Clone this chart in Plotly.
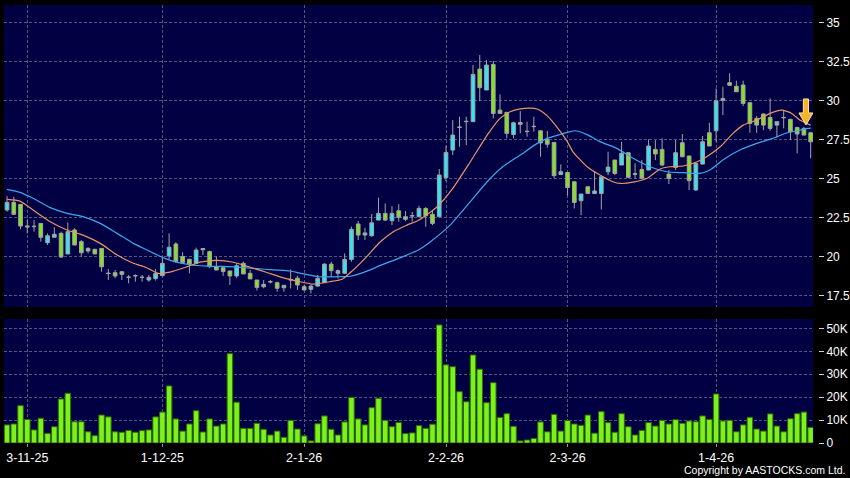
import plotly.graph_objects as go

# ---------------- data ----------------
opens = [22.97, 23.46, 23.33, 21.95, 21.90, 22.11, 20.87, 21.22, 21.47, 20.15,
         21.69, 20.94, 20.34, 20.45, 20.51, 18.92, 18.95, 19.01, 18.65, 18.74,
         18.66, 18.48, 18.57, 18.76, 20.02, 20.79, 19.98, 19.81, 19.55, 20.42,
         20.30, 19.34, 19.27, 19.06, 18.74, 19.55, 18.91, 18.48, 18.05, 18.37,
         18.31, 17.98, 18.48, 18.60, 18.05, 17.88, 18.09, 18.31, 19.50, 18.91,
         18.91, 19.80, 22.07, 21.36, 21.32, 22.32, 22.75, 22.28, 22.92, 22.54,
         22.58, 22.54, 23.07, 22.69, 22.54, 25.04, 26.81, 28.26, 28.63, 28.63,
         32.00, 30.66, 32.30, 29.37, 29.23, 27.81, 28.58, 27.99, 28.31, 28.05,
         27.47, 27.30, 25.25, 25.37, 24.78, 23.56, 24.46, 24.02, 24.03, 25.42,
         26.17, 25.85, 26.64, 25.25, 25.57, 25.53, 26.85, 26.85, 25.27, 25.70,
         27.28, 26.43, 24.25, 25.91, 27.92, 28.05, 30.00, 31.13, 30.90, 30.98,
         29.85, 28.84, 29.12, 28.90, 28.41, 28.88, 28.78, 28.26, 28.20, 27.92]
highs = [23.86, 23.82, 23.33, 22.37, 22.33, 22.11, 21.47, 21.86, 21.58, 22.18,
         21.80, 21.05, 20.57, 20.45, 20.51, 19.19, 19.12, 19.06, 18.80, 18.84,
         18.80, 18.80, 19.19, 19.98, 21.47, 20.90, 20.26, 19.81, 20.55, 20.52,
         20.36, 19.98, 19.27, 19.06, 19.55, 19.66, 19.12, 18.48, 18.48, 18.48,
         18.37, 18.15, 19.16, 18.75, 18.20, 18.20, 18.80, 19.55, 19.65, 19.16,
         20.19, 21.90, 22.26, 21.83, 22.71, 23.76, 23.39, 23.22, 23.35, 22.90,
         22.85, 23.24, 23.15, 22.95, 25.60, 27.09, 28.73, 28.95, 28.95, 32.26,
         32.90, 32.58, 32.52, 30.38, 29.23, 28.63, 29.31, 28.63, 28.95, 28.05,
         28.03, 27.30, 25.89, 25.37, 24.78, 23.99, 24.46, 25.42, 25.10, 26.70,
         26.17, 27.34, 26.64, 25.96, 26.17, 27.50, 27.45, 27.56, 25.53, 27.45,
         27.84, 26.43, 25.96, 27.71, 28.56, 30.76, 30.87, 31.73, 31.26, 31.26,
         29.85, 29.00, 29.16, 30.12, 28.63, 29.33, 28.78, 28.30, 28.30, 27.98]
lows = [22.86, 22.65, 21.73, 21.47, 21.58, 20.94, 20.72, 21.22, 19.91, 20.15,
        20.72, 19.98, 20.19, 20.15, 19.01, 18.48, 18.60, 18.48, 18.27, 18.37,
        18.37, 18.37, 18.44, 18.76, 19.81, 19.60, 19.55, 18.91, 19.55, 20.08,
        19.23, 19.12, 18.74, 18.16, 18.59, 18.87, 18.55, 17.80, 17.95, 18.27,
        17.73, 17.73, 17.94, 17.84, 17.84, 17.62, 18.05, 18.31, 18.69, 18.58,
        18.91, 19.65, 21.04, 21.04, 21.25, 22.32, 22.26, 22.00, 22.22, 22.25,
        22.22, 22.54, 21.90, 22.00, 22.54, 24.80, 26.49, 27.02, 27.13, 28.63,
        29.95, 30.66, 28.84, 29.16, 27.56, 27.56, 27.88, 27.67, 27.99, 26.38,
        26.96, 24.99, 25.20, 23.90, 23.07, 22.64, 24.00, 24.00, 23.00, 25.20,
        25.20, 25.85, 25.00, 25.00, 24.93, 25.53, 26.17, 25.78, 24.63, 25.53,
        26.38, 24.25, 24.20, 25.91, 27.07, 27.34, 29.05, 30.96, 30.55, 29.63,
        27.92, 27.92, 28.09, 28.05, 27.62, 28.20, 27.45, 26.60, 27.77, 26.28]
closes = [23.46, 22.69, 21.94, 21.88, 21.92, 21.22, 21.32, 21.41, 19.95, 21.58,
          20.72, 20.23, 20.51, 20.15, 19.33, 18.90, 18.74, 18.84, 18.66, 18.76,
          18.65, 18.65, 18.91, 19.55, 20.58, 19.66, 19.61, 19.49, 20.40, 20.50,
          19.34, 19.12, 19.02, 18.74, 19.40, 18.87, 18.55, 18.01, 18.20, 18.36,
          17.95, 18.14, 18.50, 18.16, 17.84, 18.09, 18.58, 19.50, 19.08, 19.08,
          19.80, 21.73, 21.36, 21.50, 22.15, 22.75, 22.32, 22.75, 22.50, 22.37,
          22.60, 23.07, 22.60, 22.11, 25.21, 26.66, 27.77, 28.28, 28.65, 31.66,
          30.81, 32.26, 29.16, 29.16, 27.88, 28.56, 28.46, 28.01, 28.33, 27.27,
          27.18, 25.17, 25.42, 24.41, 23.45, 23.99, 24.03, 24.19, 25.10, 25.72,
          25.31, 26.60, 25.06, 25.29, 25.00, 27.07, 26.56, 25.85, 24.99, 26.64,
          26.38, 24.85, 25.96, 27.34, 27.07, 29.97, 30.12, 30.96, 30.55, 29.80,
          28.52, 28.41, 28.41, 28.20, 28.63, 28.90, 27.99, 27.84, 27.77, 27.34]
volumes = [7900, 8300, 16300, 10300, 5700, 10800, 4200, 7100, 19200, 21700,
           9300, 9300, 4900, 3200, 12200, 11400, 4900, 4700, 5500, 4700,
           5400, 5700, 11400, 13500, 24900, 10500, 5200, 8300, 14100, 4800,
           10500, 7400, 8300, 39000, 17800, 6400, 6400, 8600, 6000, 3500,
           5200, 2500, 9900, 6100, 3100, 900, 8400, 11800, 6000, 3500,
           9200, 19900, 10500, 7900, 15400, 19500, 9900, 7100, 9000, 4100,
           4400, 7600, 6400, 8200, 51500, 34100, 33300, 22400, 18000, 38400,
           32200, 17600, 26300, 11100, 12800, 7300, 900, 1300, 2000, 9200,
           4900, 12500, 5200, 9800, 8300, 7700, 12200, 4300, 13700, 8900,
           4700, 12800, 7100, 3500, 5500, 8900, 7400, 9900, 8300, 10200,
           8600, 9600, 9300, 11800, 10300, 21400, 9600, 9900, 4900, 7900,
           11200, 6100, 5200, 12700, 7400, 4900, 10600, 12800, 13500, 6800]

# moving averages (trading-day index, value)
ma10_x = [0, 1.9, 3.85, 6.4, 8.9, 11.25, 13.8, 16.3, 18.7, 20.5, 22.4, 24.1, 26.6,
          28.6, 31.1, 33.5, 36, 38.5, 41.2, 43.4, 45.3, 47.8, 49.7, 51.2, 53.3,
          55.2, 57.2, 59.2, 61.1, 63.7, 66, 68.6, 71.1, 73, 74.5, 76, 77.5, 78.5,
          80, 81.4, 82.9, 83.8, 85.9, 87.8, 89.7, 90.8, 92.7, 94.8, 96.7, 98.2,
          100.1, 102.2, 103.6, 105.6, 107.5, 109, 111, 113, 114.7, 116.2, 117.4,
          118.4, 119]
ma10_y = [23.65, 23.54, 22.97, 22.22, 21.69, 21.36, 20.83, 20.08, 19.55, 19.3,
          18.9, 18.98, 19.32, 19.63, 19.74, 19.62, 19.3, 18.96, 18.58, 18.37,
          18.22, 18.37, 18.55, 19.1, 20.0, 20.9, 21.58, 22.0, 22.35, 23.18,
          24.35, 26.06, 27.77, 28.84, 29.27, 29.45, 29.5, 29.44, 29.0, 28.3,
          27.4, 26.7, 25.74, 25.21, 24.78, 24.67, 24.75, 25.0, 25.6, 25.74,
          25.79, 26.06, 26.38, 27.02, 27.88, 28.41, 28.73, 29.16, 29.37, 29.16,
          28.73, 28.52, 28.4]
ma20_x = [0, 1.9, 3.85, 6.4, 8.9, 11.25, 13.8, 16.3, 18.7, 20.5, 22.4, 24.6,
          27.1, 29.6, 32, 34.5, 37, 39.4, 41.9, 43.4, 46.3, 49.3, 50.8, 53.3,
          55.2, 58.2, 61.1, 62.6, 65.6, 68.6, 71.1, 73.4, 76, 78.5, 80, 81.9,
          83.4, 84.1, 85.9, 87.8, 90.3, 92.7, 95.2, 97.7, 100.1, 102.6, 104.1,
          106, 108.5, 111, 113.4, 115.5, 117.4, 118.6, 119]
ma20_y = [24.29, 24.1, 23.72, 23.12, 22.75, 22.54, 22.11, 21.47, 20.83, 20.45,
          20.05, 19.68, 19.46, 19.37, 19.35, 19.29, 19.21, 19.13, 19.06, 18.92,
          18.69, 18.69, 18.72, 19.05, 19.4, 19.9, 20.45, 20.9, 22.0, 23.5,
          24.78, 25.74, 26.49, 27.24, 27.56, 27.81, 27.99, 28.05, 27.8, 27.35,
          26.92, 26.28, 25.74, 25.42, 25.36, 25.32, 25.53, 26.17, 26.81, 27.24,
          27.56, 27.92, 28.09, 28.2, 28.22]

tick_idx = [3, 23, 44, 65, 83, 105]
tick_text = ["3-11-25", "1-12-25", "2-1-26", "2-2-26", "2-3-26", "1-4-26"]
price_ticks = [17.5, 20, 22.5, 25, 27.5, 30, 32.5, 35]
price_tick_text = ["17.5", "20", "22.5", "25", "27.5", "30", "32.5", "35"]
vol_ticks = [0, 10000, 20000, 30000, 40000, 50000]
vol_tick_text = ["0", "10K", "20K", "30K", "40K", "50K"]
signal_idx = 118.3
signal_price = 28.42

# ---------------- figure ----------------
idx = list(range(len(closes)))
FONT = "Liberation Sans, Arial, sans-serif"
GRID = "#55557f"
NAVY = "#000042"

fig = go.Figure()

fig.add_trace(go.Bar(
    x=idx, y=volumes, xaxis="x", yaxis="y2",
    marker=dict(color="#7cf21c", line=dict(color="#2f6a00", width=1)),
    hoverinfo="skip"))

fig.add_trace(go.Candlestick(
    x=idx, open=opens, high=highs, low=lows, close=closes,
    xaxis="x2", yaxis="y",
    increasing=dict(fillcolor="#33e4f2", line=dict(color="#a4a4a4", width=1)),
    decreasing=dict(fillcolor="#84e222", line=dict(color="#a4a4a4", width=1)),
    whiskerwidth=0))

fig.add_trace(go.Scatter(
    x=ma20_x, y=ma20_y, xaxis="x2", yaxis="y", mode="lines",
    line=dict(color="#3fa6ee", width=1.2, shape="spline", smoothing=0.6),
    hoverinfo="skip"))
fig.add_trace(go.Scatter(
    x=ma10_x, y=ma10_y, xaxis="x2", yaxis="y", mode="lines",
    line=dict(color="#e8956a", width=1.2, shape="spline", smoothing=0.6),
    hoverinfo="skip"))

xr = [-0.45, 119.35]
xdom = [0, 0.9939]
common_x = dict(range=xr, domain=xdom, tickmode="array", tickvals=tick_idx,
                showgrid=True, gridcolor=GRID, griddash="3px,2px", gridwidth=1,
                zeroline=False, showline=False, fixedrange=True)

fig.update_layout(
    width=850, height=478,
    margin=dict(l=4, r=32, t=5, b=35, autoexpand=False),
    paper_bgcolor="#000000", plot_bgcolor=NAVY,
    showlegend=False, bargap=0.18, boxgap=0.22,
    font=dict(family=FONT, color="#ffffff", size=12),
    xaxis=dict(anchor="y2", ticktext=tick_text, ticks="outside", ticklen=3,
               tickcolor="#9a9a9a", tickfont=dict(size=12.5, color="#ffffff"),
               automargin=False, **common_x),
    xaxis2=dict(anchor="y", matches="x", showticklabels=False, ticks="",
                rangeslider=dict(visible=False), automargin=False, **common_x),
    yaxis=dict(domain=[0.3105, 1], anchor="free", position=1, side="right",
               range=[16.75, 36.11], tickmode="array", tickvals=price_ticks,
               ticktext=price_tick_text, ticks="outside", ticklen=5,
               tickcolor="#d0d0d0", tickfont=dict(size=12, color="#ffffff"),
               showgrid=True, gridcolor=GRID, griddash="3px,2px",
               zeroline=False, showline=False, fixedrange=True, automargin=False),
    yaxis2=dict(domain=[0, 0.2831], anchor="free", position=1, side="right",
                range=[0, 54100], tickmode="array", tickvals=vol_ticks,
                ticktext=vol_tick_text, ticks="outside", ticklen=5,
                tickcolor="#d0d0d0", tickfont=dict(size=12, color="#ffffff"),
                showgrid=True, gridcolor=GRID, griddash="3px,2px",
                zeroline=False, showline=False, fixedrange=True, automargin=False),
)

# signal arrow (block arrow pointing down at the latest session)
fig.add_shape(
    type="path", xref="x2", yref="y", xsizemode="pixel", ysizemode="pixel",
    xanchor=signal_idx, yanchor=signal_price,
    path="M0,0 L-7,12 L-2.6,12 L-2.6,26 L2.6,26 L2.6,12 L7,12 Z",
    fillcolor="#f6b42a", line=dict(color="#ffe6a0", width=1), layer="above")

fig.add_annotation(
    text="Copyright by AASTOCKS.com Ltd.", xref="paper", yref="paper",
    x=1 + 29 / 814, y=-27 / 438, xanchor="right", yanchor="middle",
    showarrow=False, font=dict(family=FONT, size=10.5, color="#ffffff"))

fig.write_html(
    "out.html",
    config={"displayModeBar": False},
    post_script="document.body.style.margin='0px';"
                "document.body.style.overflow='hidden';"
                "document.body.style.background='#000000';")
